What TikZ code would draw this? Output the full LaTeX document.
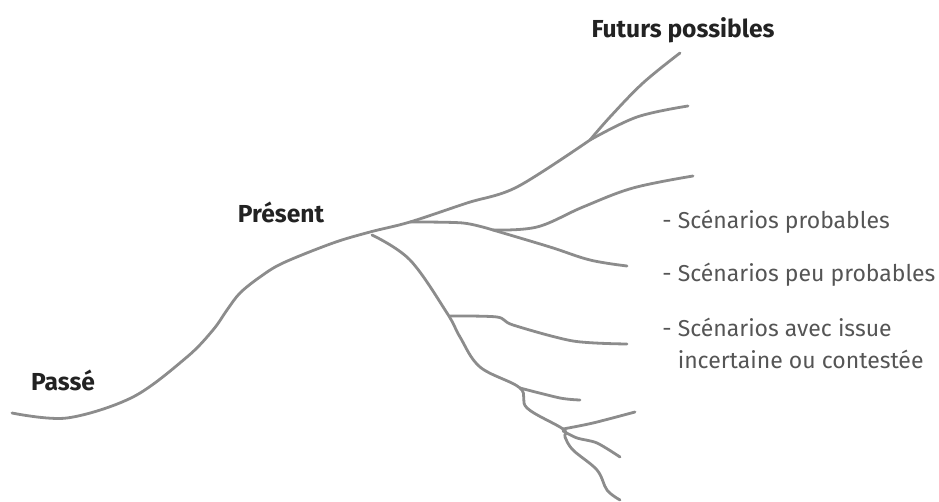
\documentclass[tikz,border=0pt]{standalone}
\usepackage{fontspec}
\setmainfont{Fira Sans}
\usepackage{xcolor}
\usepackage{tikz}
\usetikzlibrary{positioning}

\definecolor{branchgray}{HTML}{8C8C8C}
\definecolor{textgray}{HTML}{555555}
\definecolor{titleblack}{HTML}{222222}

\begin{document}
\begin{tikzpicture}[x=0.5pt, y=-0.5pt,
    branch/.style={branchgray, line width=1.4pt, line cap=round, line join=round},
    title/.style={font=\bfseries\fontsize{12.3}{14}\selectfont, text=titleblack, inner sep=0pt},
    scen/.style={font=\fontsize{11.5}{16}\selectfont, text=textgray, inner sep=0pt, anchor=west, align=left}]
    \useasboundingbox (0,0) rectangle (939,502);

    % 1. Tronc : passé -> présent
    \draw[branch] plot[smooth, tension=0.55] coordinates {
        (12,413) (67,418) (133,397) (187,357) (213,330) (227,310) (240,293)
        (260,277) (283,263) (333,243) (370,232) (410,222) (467,203) (517,187) (590,140)};

    % 2. Futurs du haut
    \draw[branch] plot[smooth, tension=0.6] coordinates {(590,140) (610,117) (643,83) (680,53)};
    \draw[branch] plot[smooth, tension=0.6] coordinates {(590,140) (637,117) (688,106)};

    % 3. Branche du milieu
    \draw[branch] plot[smooth, tension=0.5] coordinates {(410,222) (463,223) (493,230)};
    \draw[branch] plot[smooth, tension=0.6] coordinates {(493,230) (537,227) (583,207) (633,188) (693,176)};
    \draw[branch] plot[smooth, tension=0.6] coordinates {(493,230) (550,247) (590,260) (627,266)};

    % 4. Branche descendante
    \draw[branch] plot[smooth, tension=0.6] coordinates {
        (372,235) (410,260) (447,313) (460,337) (480,367) (520,388)
        (527,408) (563,429) (565,437) (573,450) (597,470) (607,490) (620,500)};
    \draw[branch] plot[smooth, tension=0.5] coordinates {(450,316) (497,317) (513,325) (573,341) (627,344)};
    \draw[branch] plot[smooth, tension=0.5] coordinates {(520,388) (560,398) (580,400)};
    \draw[branch] plot[smooth, tension=0.5] coordinates {(563,429) (593,423) (635,412)};
    \draw[branch] plot[smooth, tension=0.5] coordinates {(563,431) (577,438) (597,443) (620,457)};

    % 5. Etiquettes
    \node[title] (futurs) at (683,30) {Futurs possibles};
    \node[title] (present) at (281,212) {Présent};
    \node[title] (passe) at (63,380) {Passé};

    \node[scen] (probables) at (662,222) {- Scénarios probables};
    \node[scen] (peuprob) at (662,275) {- Scénarios peu probables};
    \node[scen] (incertain) at (662,343) {- Scénarios avec issue\\\hphantom{- }incertaine ou contestée};

\end{tikzpicture}
\end{document}
